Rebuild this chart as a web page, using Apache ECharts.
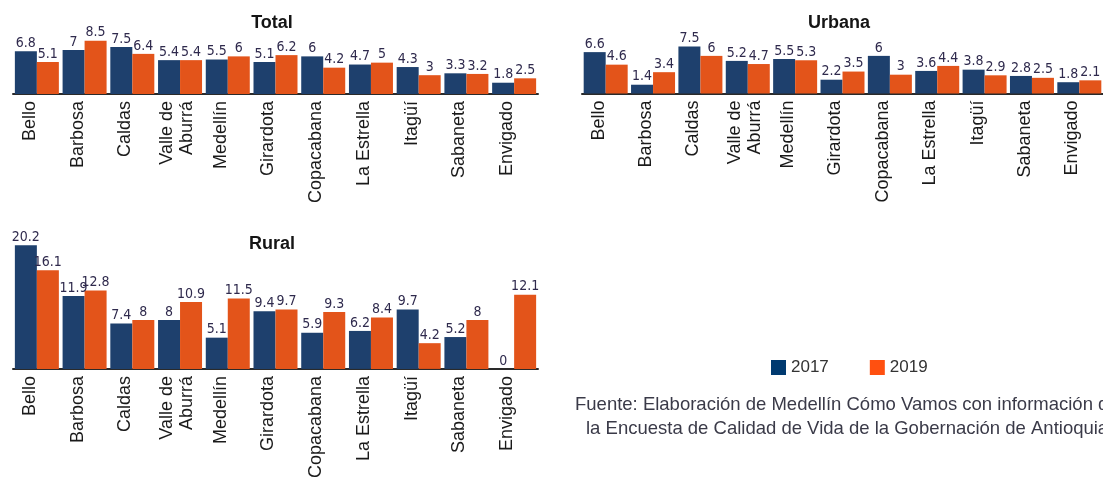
<!DOCTYPE html>
<html><head><meta charset="utf-8">
<script src="https://cdn.jsdelivr.net/npm/echarts@6/dist/echarts.min.js"></script>
<style>html,body{margin:0;padding:0;background:#fff}#c{width:1103px;height:481px}</style>
</head><body><div id="c"></div><script>
const categories = ['Bello','Barbosa','Caldas','Valle de\nAburrá','Medellín','Girardota','Copacabana','La Estrella','Itagüí','Sabaneta','Envigado'];
const seriesNames = ['2017','2019'];
const panelTitles = ['Total','Urbana','Rural'];
const total2017 = [6.8,7,7.5,5.4,5.5,5.1,6,4.7,4.3,3.3,1.8];
const total2019 = [5.1,8.5,6.4,5.4,6,6.2,4.2,5,3,3.2,2.5];
const urbana2017 = [6.6,1.4,7.5,5.2,5.5,2.2,6,3.6,3.8,2.8,1.8];
const urbana2019 = [4.6,3.4,6,4.7,5.3,3.5,3,4.4,2.9,2.5,2.1];
const rural2017 = [20.2,11.9,7.4,8,5.1,9.4,5.9,6.2,9.7,5.2,0];
const rural2019 = [16.1,12.8,8,10.9,11.5,9.7,9.3,8.4,4.2,8,12.1];
const sourceLines = ['Fuente: Elaboración de Medellín Cómo Vamos con información de','la Encuesta de Calidad de Vida de la Gobernación de Antioquia.'];

const C17 = '#1e406d', C19 = '#e3541a';
const FONT = '"Liberation Sans", Arial, sans-serif';
const grids = [
  {left: 13, top: 31.3, width: 525, height: 62.7},
  {left: 582, top: 30.8, width: 525, height: 62.7},
  {left: 13, top: 234.1, width: 525, height: 137.9}
];
const yMax = [10, 10, 22];
const data = [[total2017,total2019],[urbana2017,urbana2019],[rural2017,rural2019]];

const xAxis = grids.map((g,i)=>({
  type:'category', gridIndex:i, data:categories,
  axisLine:{show:true, lineStyle:{color:'#2a2a2a', width:2}},
  axisTick:{show:false},
  axisLabel:{interval:0, rotate:90, fontSize:18, color:'#1a1a1a', fontFamily:FONT, margin:7, lineHeight:20,
    formatter: v => v.indexOf('\n') >= 0 ? v + '\n{s6| }' : v + '\n{s14| }',
    rich:{s6:{lineHeight:6, fontSize:1}, s14:{lineHeight:14, fontSize:1}}}
}));
const yAxis = grids.map((g,i)=>({type:'value', gridIndex:i, min:0, max:yMax[i], show:false, splitLine:{show:false}}));
const series = [];
data.forEach((pair,i)=>{
  pair.forEach((vals,k)=>{
    series.push({
      type:'bar', name:seriesNames[k], xAxisIndex:i, yAxisIndex:i, data:vals,
      barWidth:22, barGap:'0%',
      itemStyle:{color:k===0?C17:C19},
      label:{show:true, position:'top', distance:1, fontSize:14, color:'#2f2a4d',
        fontFamily:'"Liberation Sans Narrow", "DejaVu Sans Condensed", sans-serif'},
      emphasis:{disabled:true}, animation:false
    });
  });
});
const titleX = [267, 834, 267];
const titleY = [9, 9, 230];
const chart = echarts.init(document.getElementById('c'));
chart.setOption({
  animation:false,
  textStyle:{fontFamily:FONT},
  title: panelTitles.map((t,i)=>({text:t, left:titleX[i], top:titleY[i], textAlign:'center',
    textStyle:{fontSize:18, fontWeight:'bold', color:'#151515', fontFamily:FONT}})),
  grid: grids,
  xAxis, yAxis, series,
  legend:{left:771, top:359, padding:0, itemWidth:15, itemHeight:15, itemGap:41, icon:'rect',
    textStyle:{fontSize:17, color:'#333', fontFamily:FONT},
    data:[{name:'2017', itemStyle:{color:'#003a70'}},{name:'2019', itemStyle:{color:'#ff5010'}}]},
  graphic: sourceLines.map((s,i)=>({type:'text', left:[575,586][i], top:[395,419][i],
    style:{text:s, fontSize:18.5, fill:'#3a3a48', fontFamily:FONT}}))
});
</script></body></html>
